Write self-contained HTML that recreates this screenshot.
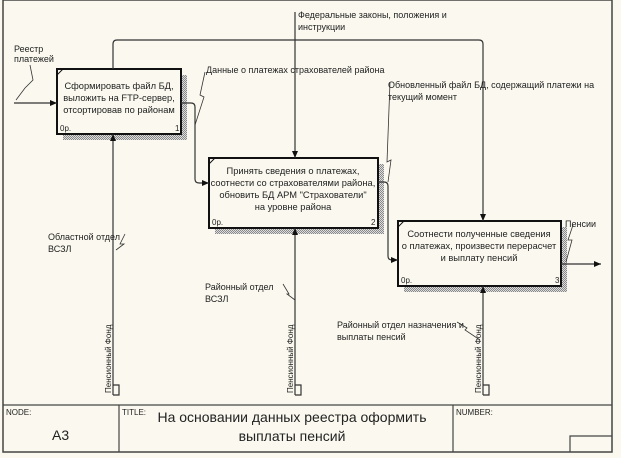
<!DOCTYPE html>
<html><head><meta charset="utf-8"><style>
body{margin:0;background:#fff}
svg{display:block}
text{font-family:"Liberation Sans",sans-serif;fill:#222}
</style></head><body>
<svg width="621" height="458" viewBox="0 0 621 458" xmlns="http://www.w3.org/2000/svg">
<defs>
<pattern id="h" width="2" height="2" patternUnits="userSpaceOnUse"><rect width="2" height="2" fill="#ddd"/><rect width="1" height="1" fill="#888"/><rect x="1" y="1" width="1" height="1" fill="#888"/></pattern>
<marker id="a" markerWidth="8" markerHeight="8" refX="7" refY="4" orient="auto" markerUnits="userSpaceOnUse"><path d="M0,1 L7,4 L0,7 Z" fill="#111"/></marker>
</defs>
<rect width="621" height="458" fill="#fbf9ef"/>
<rect x="3" y="0" width="609" height="452" fill="none" stroke="#444" stroke-width="1.5"/>
<g stroke="#444" fill="none" stroke-width="1.2">
<line x1="3" y1="405" x2="612" y2="405"/>
<line x1="119" y1="405" x2="119" y2="452"/>
<line x1="453" y1="405" x2="453" y2="452"/>
<polyline points="570,452 570,436 612,436"/>
</g>
<rect x="63" y="75" width="124" height="65" fill="url(#h)"/>
<rect x="215" y="164" width="169" height="70" fill="url(#h)"/>
<rect x="404" y="227" width="163" height="65" fill="url(#h)"/>
<g fill="#fbf9ef" stroke="#111" stroke-width="2">
<rect x="57" y="69" width="124" height="65"/>
<rect x="209" y="158" width="169" height="70"/>
<rect x="398" y="221" width="163" height="65"/>
</g>
<g stroke="#111" stroke-width="1"><line x1="57" y1="75" x2="63" y2="69"/><line x1="209" y1="164" x2="215" y2="158"/><line x1="398" y1="227" x2="404" y2="221"/></g>
<g font-size="9.3" text-anchor="middle">
<text x="119" y="89">Сформировать файл БД,</text>
<text x="119" y="101">выложить на FTP-сервер,</text>
<text x="119" y="113">отсортировав по районам</text>
<text x="293" y="174">Принять сведения о платежах,</text>
<text x="293" y="186">соотнести со страхователями района,</text>
<text x="293" y="198">обновить БД АРМ "Страхователи"</text>
<text x="293" y="210">на уровне района</text>
<text x="479" y="237">Соотнести полученные сведения</text>
<text x="479" y="249">о платежах, произвести перерасчет</text>
<text x="479" y="261">и выплату пенсий</text>
</g>
<g font-size="8">
<text x="60" y="131">0р.</text><text x="175" y="131">1</text>
<text x="212" y="225">0р.</text><text x="371" y="225">2</text>
<text x="401" y="283">0р.</text><text x="555" y="283">3</text>
</g>
<g stroke="#333" stroke-width="1.2" fill="none">
<path d="M14,103 H57" marker-end="url(#a)"/>
<path d="M295,12 V158" marker-end="url(#a)"/>
<path d="M113,69 V44 Q113,40 117,40 H479 Q483,40 483,44 V221" marker-end="url(#a)"/>
<path d="M181,103 H191 Q195,103 195,107 V179 Q195,183 199,183 H209" marker-end="url(#a)"/>
<path d="M378,182 H384 Q388,182 388,186 V256 Q388,260 392,260 H398" marker-end="url(#a)"/>
<path d="M561,264 H601" marker-end="url(#a)"/>
<path d="M113,395 V134" marker-end="url(#a)"/>
<path d="M295,395 V228" marker-end="url(#a)"/>
<path d="M483,395 V286" marker-end="url(#a)"/>
<polyline points="113,395 119,395 119,385 113,385"/>
<polyline points="295,395 301,395 301,385 295,385"/>
<polyline points="483,395 489,395 489,385 483,385"/>
<polyline stroke-width="0.8" points="30,65 33,80 25,88 16,100"/>
<polyline stroke-width="0.8" points="205,72 200,95 204,97 195,125"/>
<polyline stroke-width="0.8" points="390,82 387,162 391,160 388,182"/>
<polyline stroke-width="0.8" points="125,234 120,244 124,244 116,250"/>
<polyline stroke-width="0.8" points="283,284 289,294 287,294 295,300"/>
<polyline stroke-width="0.8" points="457,322 467,328 465,330 480,340"/>
<polyline stroke-width="0.8" points="573,225 568,240 572,240 566,262"/>
</g>
<g font-size="9">
<text x="14" y="52">Реестр</text><text x="14" y="62">платежей</text>
<text x="298" y="18">Федеральные законы, положения и</text><text x="298" y="30">инструкции</text>
<text x="206" y="73">Данные о платежах страхователей района</text>
<text x="388" y="88">Обновленный файл БД, содержащий платежи на</text><text x="388" y="100">текущий момент</text>
<text x="48" y="240">Областной отдел</text><text x="48" y="252">ВСЗЛ</text>
<text x="205" y="290">Районный отдел</text><text x="205" y="302">ВСЗЛ</text>
<text x="337" y="328">Районный отдел назначения и</text><text x="337" y="340">выплаты пенсий</text>
<text x="565" y="227">Пенсии</text>
</g>
<g font-size="8">
<text transform="translate(111,393) rotate(-90)">Пенсионный Фонд</text>
<text transform="translate(293,393) rotate(-90)">Пенсионный Фонд</text>
<text transform="translate(481,393) rotate(-90)">Пенсионный Фонд</text>
<text x="6" y="415">NODE:</text><text x="122" y="415">TITLE:</text><text x="456" y="415">NUMBER:</text>
</g>
<text x="52" y="440" font-size="14">А3</text>
<g font-size="14" text-anchor="middle">
<text x="292" y="422">На основании данных реестра оформить</text>
<text x="292" y="441">выплаты пенсий</text>
</g>
</svg>
</body></html>
